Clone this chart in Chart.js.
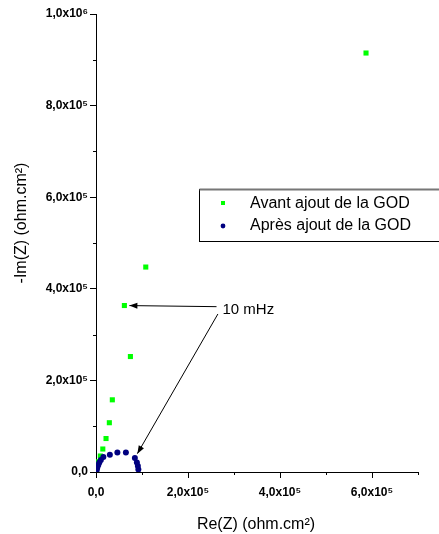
<!DOCTYPE html>
<html>
<head>
<meta charset="utf-8">
<script src="https://cdn.jsdelivr.net/npm/chart.js@4/dist/chart.umd.min.js"></script>
<style>
  html, body { margin: 0; padding: 0; background: #fff; }
  #wrap { width: 439px; height: 534px; }
</style>
</head>
<body>
<div id="wrap"><canvas id="nyquist" width="439" height="534"></canvas></div>
<script>
// Nyquist data (ohm.cm2)
const avantRe = [200, 1300, 2800, 5700, 9400, 14800, 21800, 29000, 35500, 74800, 61700, 108200, 587000];
const avantIm = [1100, 5500, 13100, 22500, 34900, 50200, 73100, 107600, 157600, 252100, 363500, 447500, 914800];
const apresRe = [200, 700, 1700, 2800, 5000, 7200, 10500, 16000, 30100, 46500, 65000, 84500, 88900, 91000, 92100];
const apresIm = [0, 2200, 5500, 9800, 15300, 20700, 26200, 32700, 37800, 42600, 42600, 30600, 20700, 13100, 5500];

const seriesNames = ['Avant ajout de la GOD', 'Après ajout de la GOD'];

const xTickValues = [0, 200000, 400000, 600000];
const xTickLabels = ['0,0', '2,0x10\u2075', '4,0x10\u2075', '6,0x10\u2075'];
const yTickValues = [0, 200000, 400000, 600000, 800000, 1000000];
const yTickLabels = ['0,0', '2,0x10\u2075', '4,0x10\u2075', '6,0x10\u2075', '8,0x10\u2075', '1,0x10\u2076'];

const xTitle = 'Re(Z) (ohm.cm\u00B2)';
const yTitle = '-Im(Z) (ohm.cm\u00B2)';

// annotation "10 mHz" (data coords) and the points its arrows go to
const noteText = '10 mHz';
const notePos = [275000, 354000];
const arrowFrom = [[262000, 361000], [265000, 345000]];
const arrowTo = [['avant', 10], ['apres', 11]];

const green = '#00ff00';
const navy = '#000080';

function toPoints(xs, ys) {
    return xs.map(function(x, i) { return { x: x, y: ys[i] }; });
}

function tickLabel(values, labels) {
    return function(value) {
        const i = values.indexOf(value);
        return i >= 0 ? labels[i] : '';
    };
}

function majorColor(values) {
    return function(ctx) {
        return ctx.tick && values.indexOf(ctx.tick.value) >= 0 ? '#000' : 'rgba(0,0,0,0)';
    };
}

function arrow(ctx, x1, y1, x2, y2) {
    ctx.beginPath();
    ctx.moveTo(x1, y1);
    ctx.lineTo(x2, y2);
    ctx.stroke();
    const a = Math.atan2(y2 - y1, x2 - x1);
    const len = 8, half = 3;
    ctx.beginPath();
    ctx.moveTo(x2, y2);
    ctx.lineTo(x2 - len * Math.cos(a) + half * Math.sin(a), y2 - len * Math.sin(a) - half * Math.cos(a));
    ctx.lineTo(x2 - len * Math.cos(a) - half * Math.sin(a), y2 - len * Math.sin(a) + half * Math.cos(a));
    ctx.closePath();
    ctx.fill();
}

const extras = {
    id: 'extras',
    afterDraw: function(chart) {
        const ctx = chart.ctx;
        const xs = chart.scales.x, ys = chart.scales.y;
        const area = chart.chartArea;
        ctx.save();

        // minor ticks
        ctx.strokeStyle = '#000';
        ctx.lineWidth = 1;
        for (let v = 100000; v <= 700000; v += 200000) {
            const px = Math.round(xs.getPixelForValue(v)) + 0.5;
            ctx.beginPath();
            ctx.moveTo(px, area.bottom);
            ctx.lineTo(px, area.bottom + 3);
            ctx.stroke();
        }
        for (let v = 100000; v <= 900000; v += 200000) {
            const py = Math.round(ys.getPixelForValue(v)) + 0.5;
            ctx.beginPath();
            ctx.moveTo(area.left, py);
            ctx.lineTo(area.left - 3, py);
            ctx.stroke();
        }

        // axis titles
        ctx.fillStyle = '#000';
        ctx.font = '16px "Liberation Sans", Arial, sans-serif';
        ctx.textAlign = 'center';
        ctx.textBaseline = 'alphabetic';
        ctx.fillText(xTitle, 256, 529);
        ctx.save();
        ctx.translate(26, 223);
        ctx.rotate(-Math.PI / 2);
        ctx.fillText(yTitle, 0, 0);
        ctx.restore();

        // legend box
        const bx = 199.5, by = 189.5, bw = 245, bh = 52;
        ctx.fillStyle = '#fff';
        ctx.fillRect(bx, by, bw, bh);
        ctx.strokeStyle = '#000';
        ctx.lineWidth = 1;
        ctx.strokeRect(bx, by, bw, bh);
        ctx.strokeStyle = '#777';
        ctx.lineWidth = 2;
        ctx.beginPath();
        ctx.moveTo(bx, by);
        ctx.lineTo(bx + bw, by);
        ctx.stroke();

        ctx.fillStyle = green;
        ctx.fillRect(221, 201, 4, 4);
        ctx.fillStyle = navy;
        ctx.beginPath();
        ctx.arc(223, 226, 2.4, 0, Math.PI * 2);
        ctx.fill();

        ctx.fillStyle = '#000';
        ctx.font = '16px "Liberation Sans", Arial, sans-serif';
        ctx.textAlign = 'left';
        ctx.textBaseline = 'middle';
        ctx.fillText(seriesNames[0], 250, 204);
        ctx.fillText(seriesNames[1], 250, 226);

        // "10 mHz" note with arrows
        ctx.font = '15px "Liberation Sans", Arial, sans-serif';
        ctx.fillText(noteText, xs.getPixelForValue(notePos[0]), ys.getPixelForValue(notePos[1]));
        ctx.strokeStyle = '#000';
        ctx.fillStyle = '#000';
        ctx.lineWidth = 1;
        arrowFrom.forEach(function(from, i) {
            const ds = arrowTo[i][0] === 'avant' ? 1 : 0;
            const pt = chart.getDatasetMeta(ds).data[arrowTo[i][1]];
            const sx = xs.getPixelForValue(from[0]), sy = ys.getPixelForValue(from[1]);
            const dx = sx - pt.x, dy = sy - pt.y;
            const d = Math.sqrt(dx * dx + dy * dy);
            arrow(ctx, sx, sy, pt.x + dx / d * 5, pt.y + dy / d * 5);
        });

        ctx.restore();
    }
};

const ctx = document.getElementById('nyquist').getContext('2d');
new Chart(ctx, {
    type: 'scatter',
    data: {
        datasets: [{
            label: seriesNames[1],
            data: toPoints(apresRe, apresIm),
            pointStyle: 'circle',
            pointRadius: 3,
            borderWidth: 0,
            backgroundColor: navy,
            borderColor: navy,
            order: 1
        }, {
            label: seriesNames[0],
            data: toPoints(avantRe, avantIm),
            pointStyle: 'rect',
            pointRadius: 3.6,
            borderWidth: 0,
            backgroundColor: green,
            borderColor: green,
            order: 2
        }]
    },
    options: {
        responsive: false,
        devicePixelRatio: 1,
        animation: false,
        layout: { padding: { top: 14, right: 21, left: 0, bottom: 0 } },
        plugins: { legend: { display: false }, tooltip: { enabled: false } },
        scales: {
            x: {
                type: 'linear',
                min: 0,
                max: 700000,
                afterFit: function(scale) { scale.height = 62; },
                border: { display: true, color: '#000', width: 1 },
                grid: { drawOnChartArea: false, drawTicks: true, tickLength: 6, tickColor: majorColor(xTickValues) },
                ticks: {
                    stepSize: 100000,
                    autoSkip: false,
                    maxRotation: 0,
                    padding: 7,
                    color: '#000',
                    font: { family: '"Liberation Sans", Arial, sans-serif', size: 12, weight: 'bold' },
                    callback: tickLabel(xTickValues, xTickLabels)
                }
            },
            y: {
                type: 'linear',
                min: 0,
                max: 1000000,
                afterFit: function(scale) { scale.width = 96; },
                border: { display: true, color: '#000', width: 1 },
                grid: { drawOnChartArea: false, drawTicks: true, tickLength: 6, tickColor: majorColor(yTickValues) },
                ticks: {
                    stepSize: 100000,
                    autoSkip: false,
                    padding: 2,
                    color: '#000',
                    font: { family: '"Liberation Sans", Arial, sans-serif', size: 12, weight: 'bold' },
                    callback: tickLabel(yTickValues, yTickLabels)
                }
            }
        }
    },
    plugins: [extras]
});
</script>
</body>
</html>
